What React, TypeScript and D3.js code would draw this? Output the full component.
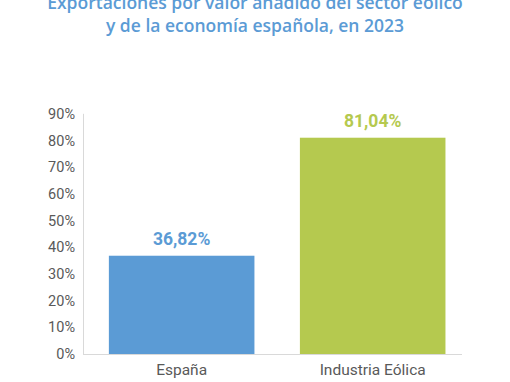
import React from "react";
import * as d3 from "d3";

const categories = ["España", "Industria Eólica"];
const values = [36.82, 81.04];
const valueLabels = ["36,82%", "81,04%"];
const barColors = ["#5B9BD5", "#B5C94F"];
const yTicks = [0, 10, 20, 30, 40, 50, 60, 70, 80, 90];
const titleLines = [
  "Exportaciones por valor añadido del sector eólico",
  "y de la economía española, en 2023",
];

export default function App() {
  const W = 510;
  const H = 382;
  const x = d3
    .scaleBand<string>()
    .domain(categories)
    .range([83, 462])
    .paddingInner(0.238)
    .paddingOuter(0.111)
    .align(0.61);
  const y = d3.scaleLinear().domain([0, 90]).range([354, 113.8]);
  const font = "Roboto, 'Noto Sans', sans-serif";
  return (
    <svg
      width={W}
      height={H}
      style={{ position: "absolute", left: 0, top: 0, background: "#fff" }}
    >
      {titleLines.map((t, i) => (
        <text
          key={i}
          x={255}
          y={9 + i * 22.5}
          textAnchor="middle"
          fill="#5B9BD5"
          fontFamily="'Open Sans', sans-serif"
          fontWeight={600}
          fontSize={17.5}
        >
          {t}
        </text>
      ))}
      <line x1={83.5} x2={83.5} y1={y(90)} y2={y(0)} stroke="#d9d9d9" />
      <line x1={83} x2={462} y1={y(0) + 0.5} y2={y(0) + 0.5} stroke="#d9d9d9" />
      {yTicks.map((t) => (
        <text
          key={t}
          x={75}
          y={y(t)}
          dy="0.35em"
          textAnchor="end"
          fill="#595959"
          fontFamily={font}
          fontSize={14.5}
        >
          {t}%
        </text>
      ))}
      {categories.map((c, i) => (
        <g key={c}>
          <rect
            x={x(c)}
            y={y(values[i])}
            width={x.bandwidth()}
            height={y(0) - y(values[i])}
            fill={barColors[i]}
          />
          <text
            x={(x(c) as number) + x.bandwidth() / 2}
            y={y(values[i]) - 17}
            dy="0.35em"
            textAnchor="middle"
            fill={barColors[i]}
            fontFamily={font}
            fontWeight={700}
            fontSize={17.5}
          >
            {valueLabels[i]}
          </text>
          <text
            x={(x(c) as number) + x.bandwidth() / 2}
            y={370}
            dy="0.35em"
            textAnchor="middle"
            fill="#595959"
            fontFamily={font}
            fontSize={15.5}
          >
            {c}
          </text>
        </g>
      ))}
    </svg>
  );
}
